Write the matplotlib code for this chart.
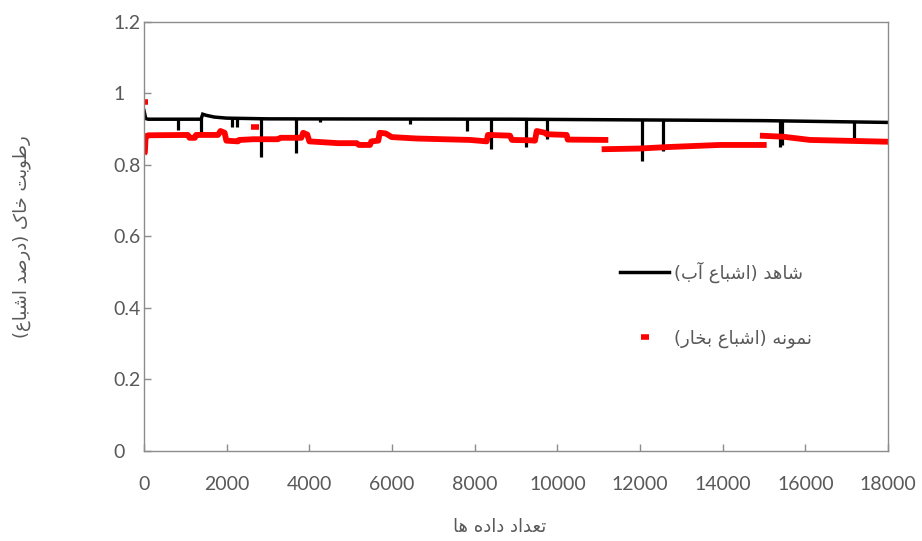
import matplotlib
matplotlib.use("Agg")
import matplotlib.pyplot as plt
from matplotlib.lines import Line2D
import numpy as np

# ---- data ----
# black series: witness (water saturated) baseline
black_x = [0, 40, 100, 1380, 1420, 1500, 1700, 2000, 3000, 9000, 12000, 15000, 18000]
black_y = [0.952, 0.930, 0.928, 0.928, 0.942, 0.939, 0.934, 0.931, 0.929, 0.928, 0.926, 0.924, 0.919]

# downward spikes of the black series (x, lowest value)
spike_x = [822, 1387, 2130, 2250, 2840, 3680, 4250, 6435, 7805, 8395, 9233, 9740,
           12040, 12563, 15390, 15440, 17175]
spike_low = [0.898, 0.889, 0.907, 0.907, 0.823, 0.834, 0.920, 0.915, 0.896, 0.844, 0.849, 0.872,
             0.812, 0.840, 0.851, 0.855, 0.875]

# red series: sample (vapour saturated), segments separated by gaps
red_x = [0, 20, 40, 100, 1060, 1100, 1230, 1260, 1790, 1850, 1950, 1992, 2274, 2300, 2650,
         3241, 3300, 3805, 3850, 3950, 4000, 4693, 5145, 5200, 5467, 5500, 5668, 5700, 5850,
         5991, 6596, 7886, 8290, 8320, 8854, 8900, 9337, 9458, 9500, 9700, 9740, 10225, 10250,
         11232, np.nan,
         11071, 11998, 12644, 13933, 15063, np.nan,
         14900, 15465, 16110, 18000]
red_y = [0.832, 0.835, 0.880, 0.883, 0.884, 0.876, 0.876, 0.884, 0.884, 0.895, 0.890, 0.868, 0.866, 0.870, 0.872,
         0.872, 0.876, 0.876, 0.890, 0.885, 0.866, 0.861, 0.861, 0.856, 0.856, 0.866, 0.868, 0.890, 0.888,
         0.878, 0.874, 0.870, 0.866, 0.884, 0.882, 0.870, 0.869, 0.868, 0.895, 0.890, 0.886, 0.884, 0.871,
         0.870, np.nan,
         0.844, 0.846, 0.850, 0.856, 0.856, np.nan,
         0.882, 0.879, 0.870, 0.865]

# isolated red points
red_dot_x = [0, 2680]
red_dot_y = [0.975, 0.905]

x_ticks = [0, 2000, 4000, 6000, 8000, 10000, 12000, 14000, 16000, 18000]
y_ticks = [0, 0.2, 0.4, 0.6, 0.8, 1.0, 1.2]
y_tick_labels = ["0", "0.2", "0.4", "0.6", "0.8", "1", "1.2"]

label_black = "شاهد (اشباع آب)"
label_red = "نمونه (اشباع بخار)"
x_label = "تعداد داده ها"
y_label = "رطوبت خاک (درصد اشباع)"

# ---- minimal Persian shaping (matplotlib has no bidi / shaping) ----
FORMS = {
    'ا': ('\uFE8D', '\uFE8E', None, None),
    'آ': ('\uFE81', '\uFE82', None, None),
    'ب': ('\uFE8F', '\uFE90', '\uFE91', '\uFE92'),
    'ت': ('\uFE95', '\uFE96', '\uFE97', '\uFE98'),
    'خ': ('\uFEA5', '\uFEA6', '\uFEA7', '\uFEA8'),
    'د': ('\uFEA9', '\uFEAA', None, None),
    'ر': ('\uFEAD', '\uFEAE', None, None),
    'ش': ('\uFEB5', '\uFEB6', '\uFEB7', '\uFEB8'),
    'ص': ('\uFEB9', '\uFEBA', '\uFEBB', '\uFEBC'),
    'ط': ('\uFEC1', '\uFEC2', '\uFEC3', '\uFEC4'),
    'ع': ('\uFEC9', '\uFECA', '\uFECB', '\uFECC'),
    'ک': ('\uFB8E', '\uFB8F', '\uFB90', '\uFB91'),
    'م': ('\uFEE1', '\uFEE2', '\uFEE3', '\uFEE4'),
    'ن': ('\uFEE5', '\uFEE6', '\uFEE7', '\uFEE8'),
    'ه': ('\uFEE9', '\uFEEA', '\uFEEB', '\uFEEC'),
    'و': ('\uFEED', '\uFEEE', None, None),
}
MIRROR = {'(': ')', ')': '('}


def shape(text):
    out = []
    for i, ch in enumerate(text):
        if ch not in FORMS:
            out.append(MIRROR.get(ch, ch))
            continue
        prev = text[i - 1] if i > 0 else ''
        nxt = text[i + 1] if i + 1 < len(text) else ''
        iso, fin, ini, med = FORMS[ch]
        join_prev = prev in FORMS and FORMS[prev][2] is not None
        join_next = ini is not None and nxt in FORMS
        if join_prev and join_next:
            out.append(med)
        elif join_prev:
            out.append(fin)
        elif join_next:
            out.append(ini)
        else:
            out.append(iso)
    return ''.join(reversed(out))


grey_text = '#595959'
grey_axis = '#8c8c8c'
fa_font = ['DejaVu Sans']

fig = plt.figure(figsize=(9.22, 5.41), dpi=100)
ax = fig.add_axes([0.1562, 0.1664, 0.807, 0.793])

ax.plot(black_x, black_y, color='black', lw=2.5, solid_joinstyle='miter')
black_base = np.interp(spike_x, black_x, black_y)
ax.vlines(spike_x, spike_low, black_base, color='black', lw=2.3)
ax.plot(red_x, red_y, color='#ff0000', lw=4.2, solid_capstyle='butt')
ax.plot(red_dot_x, red_dot_y, ls='none', marker='_', color='#ff0000', ms=6, mew=4)

ax.set_xlim(0, 18000)
ax.set_ylim(0, 1.2)
ax.set_xticks(x_ticks)
ax.set_xticklabels([str(t) for t in x_ticks], family='Lato', fontsize=14, color=grey_text)
ax.set_yticks(y_ticks)
ax.set_yticklabels(y_tick_labels, family='Lato', fontsize=14, color=grey_text, ha='left')
ax.tick_params(direction='in', length=5, width=1, color=grey_axis)
ax.tick_params(axis='x', pad=18)
ax.tick_params(axis='y', pad=22)
for side in ['left', 'right', 'top', 'bottom']:
    ax.spines[side].set_color(grey_axis)
    ax.spines[side].set_linewidth(1)

ax.set_xlabel(shape(x_label), family=fa_font, fontsize=13, color=grey_text)
ax.xaxis.set_label_coords(0.478, -0.157)
ax.set_ylabel(shape(y_label), family=fa_font, fontsize=13, color=grey_text)
ax.yaxis.set_label_coords(-0.152, 0.5)

handles = [Line2D([], [], color='black', lw=2.5),
           Line2D([], [], ls='none', marker='_', color='#ff0000', ms=6, mew=4)]
ax.legend(handles, [shape(label_black), shape(label_red)], loc='upper left',
          bbox_to_anchor=(0.64, 0.442), frameon=False, borderpad=0, borderaxespad=0,
          handlelength=2.7, handletextpad=0.3, labelspacing=2.6,
          prop={'family': fa_font, 'size': 13}, labelcolor=grey_text)

fig.savefig('out.png', dpi=100)
